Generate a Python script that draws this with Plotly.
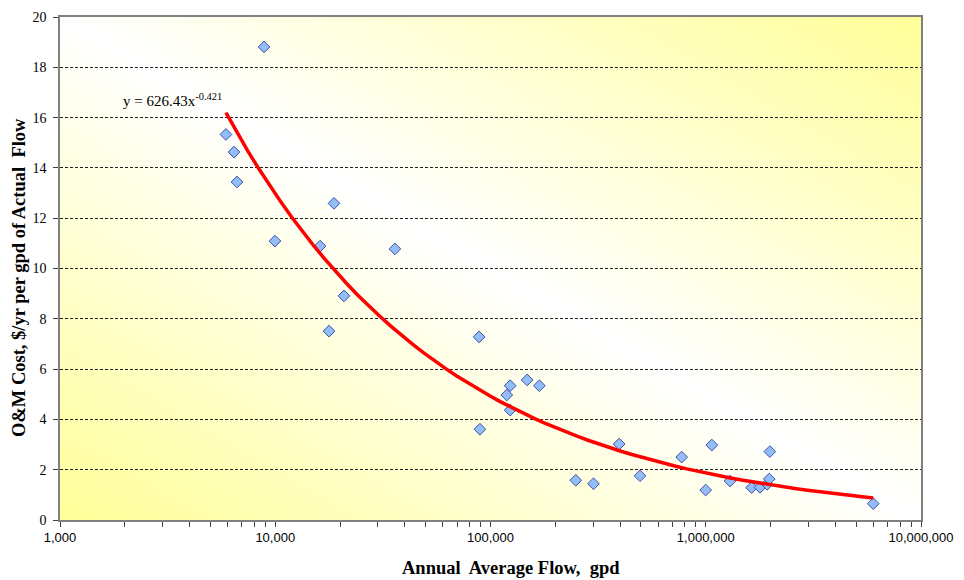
import base64
import numpy as np
import plotly.graph_objects as go

# ---- data ----
flow_gpd = [5900, 6430, 6640, 8870, 9970, 18750, 16150, 35950, 20850, 17780,
            88500, 89300, 123400, 119000, 123400, 148000, 168700, 249000, 301000,
            396000, 495000, 773000, 999000, 1067000, 1297000, 1633000, 1786000,
            1928000, 1973000, 1986000, 6000000]
om_cost = [15.33, 14.63, 13.44, 18.81, 11.09, 12.59, 10.89, 10.78, 8.91, 7.51,
           7.28, 3.61, 5.34, 4.97, 4.37, 5.57, 5.34, 1.58, 1.44,
           3.02, 1.76, 2.50, 1.19, 2.98, 1.55, 1.29, 1.30,
           1.42, 1.63, 2.72, 0.65]

# power trendline shown on the chart: y = 626.43 x^-0.421
trend_coef = 626.43
trend_exp = -0.421
trend_xmin = 5900
trend_xmax = 6000000

x_tick_labels = ["1,000", "10,000", "100,000", "1,000,000", "10,000,000"]
y_ticks = [0, 2, 4, 6, 8, 10, 12, 14, 16, 18, 20]

# ---- derived ----
trend_x = np.logspace(np.log10(trend_xmin), np.log10(trend_xmax), 60)
trend_y = trend_coef * trend_x ** trend_exp

decades = [1e3, 1e4, 1e5, 1e6, 1e7]
tickvals, ticktext = [], []
for i, d in enumerate(decades):
    tickvals.append(d)
    ticktext.append(x_tick_labels[i])
    if d < 1e7:
        for m in range(2, 10):
            tickvals.append(d * m)
            ticktext.append("")

svg = ('<svg xmlns="http://www.w3.org/2000/svg" width="100" height="100" '
       'viewBox="0 0 100 100" preserveAspectRatio="none">'
       '<defs><linearGradient id="g" x1="0" y1="1" x2="1" y2="0">'
       '<stop offset="0" stop-color="#FFFF99"/>'
       '<stop offset="0.5" stop-color="#FFFFFF"/>'
       '<stop offset="1" stop-color="#FFFF99"/>'
       '</linearGradient></defs>'
       '<rect x="0" y="0" width="100" height="100" fill="url(#g)"/></svg>')
bg_src = "data:image/svg+xml;base64," + base64.b64encode(svg.encode()).decode()

fig = go.Figure()
fig.add_trace(go.Scatter(
    x=flow_gpd, y=om_cost, mode="markers",
    marker=dict(symbol="diamond", size=9, color="#93BDF7",
                line=dict(color="#3F4FA8", width=1)),
    showlegend=False, hoverinfo="x+y"))
fig.add_trace(go.Scatter(
    x=trend_x, y=trend_y, mode="lines",
    line=dict(color="#FF0000", width=3.5),
    showlegend=False, hoverinfo="skip"))

fig.add_annotation(
    x=np.log10(1919), y=16.7, xref="x", yref="y",
    text="y = 626.43x<sup>-0.421</sup>", showarrow=False,
    xanchor="left", yanchor="middle",
    font=dict(family="Liberation Serif", size=15, color="#000000"))

title_font = dict(family="Liberation Serif", size=18.5, color="#000000")
# axis titles placed as annotations (paper coords) to match reference offsets
fig.add_annotation(
    x=(511 - 60) / 861, y=(520 - 568) / 503, xref="paper", yref="paper",
    text="<b>Annual  Average Flow,  gpd</b>", showarrow=False,
    xanchor="center", yanchor="middle", font=title_font)
fig.add_annotation(
    x=(19 - 60) / 861, y=(520 - 278) / 503, xref="paper", yref="paper",
    text="<b>O&amp;M Cost, $/yr per gpd of Actual  Flow</b>", showarrow=False,
    textangle=-90, xanchor="center", yanchor="middle", font=title_font)

fig.update_layout(
    width=964, height=580,
    margin=dict(l=60, r=43, t=17, b=60),
    paper_bgcolor="white", plot_bgcolor="rgba(0,0,0,0)",
    images=[dict(source=bg_src, xref="paper", yref="paper", x=0, y=1,
                 sizex=1, sizey=1, xanchor="left", yanchor="top",
                 sizing="stretch", layer="below")],
)
fig.update_xaxes(
    type="log", range=[3, 7], tickvals=tickvals, ticktext=ticktext,
    ticks="outside", ticklen=5, tickcolor="#404040", automargin=False,
    showgrid=False, zeroline=False,
    showline=True, linecolor="#808080", linewidth=1.5, mirror=True,
    tickfont=dict(family="Liberation Sans", size=13, color="#000000"))
fig.update_yaxes(
    range=[0, 20], tickvals=y_ticks, automargin=False,
    ticks="outside", ticklen=5, tickcolor="#404040", ticklabelstandoff=4,
    showgrid=True, gridcolor="#202020", gridwidth=1, griddash="3px,2px",
    zeroline=False,
    showline=True, linecolor="#808080", linewidth=1.5, mirror=True,
    tickfont=dict(family="Liberation Serif", size=14, color="#000000"))

fig.write_html("out.html", config={"displayModeBar": False},
               post_script="document.body.style.margin='0';")
